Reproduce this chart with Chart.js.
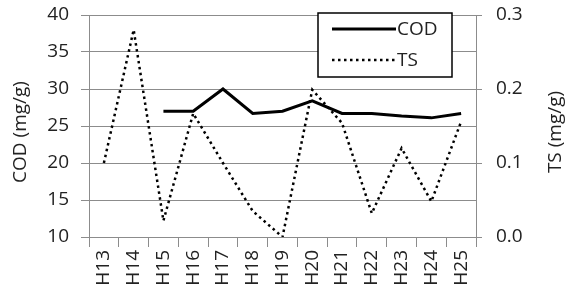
<!DOCTYPE html>
<html>
<head>
<meta charset="utf-8">
<script src="https://cdn.jsdelivr.net/npm/chart.js@4/dist/chart.umd.min.js"></script>
<style>
  html, body { margin: 0; padding: 0; background: #fff; }
  #wrap { width: 567px; height: 302px; }
</style>
</head>
<body>
<div id="wrap"><canvas id="codChart"></canvas></div>
<script>
const labels = ['H13', 'H14', 'H15', 'H16', 'H17', 'H18', 'H19', 'H20', 'H21', 'H22', 'H23', 'H24', 'H25'];
const codValues = [null, null, 27.0, 27.0, 30.0, 26.7, 27.0, 28.4, 26.7, 26.7, 26.35, 26.1, 26.7];
const tsValues = [0.10, 0.28, 0.022, 0.167, 0.10, 0.035, 0.0, 0.199, 0.154, 0.032, 0.12, 0.048, 0.156];

const fontFamily = "'Open Sans', sans-serif";
const fontSize = 19;
const gridColor = '#8c8c8c';
const textColor = '#222';

// legend box inside the plot + both axis titles reading bottom to top
const boxLegend = {
    id: 'boxLegend',
    afterDraw(chart) {
        const ctx = chart.ctx;
        const area = chart.chartArea;
        const x = area.right - 158, y = area.top - 2, w = 134, h = 64;
        ctx.save();
        ctx.fillStyle = '#fff';
        ctx.fillRect(x, y, w, h);
        ctx.strokeStyle = '#000';
        ctx.lineWidth = 1.5;
        ctx.strokeRect(x, y, w, h);
        chart.data.datasets.forEach((ds, i) => {
            const ly = y + 16 + i * 31;
            ctx.beginPath();
            ctx.strokeStyle = ds.borderColor;
            ctx.lineWidth = ds.borderWidth;
            ctx.setLineDash(ds.borderDash || []);
            ctx.moveTo(x + 14, ly);
            ctx.lineTo(x + 78, ly);
            ctx.stroke();
            ctx.setLineDash([]);
            ctx.fillStyle = textColor;
            ctx.font = fontSize + "px " + fontFamily;
            ctx.textBaseline = 'middle';
            ctx.fillText(ds.label, x + 79, ly + 1);
        });

        const midY = (area.top + area.bottom) / 2 + 6;
        [['y', 21], ['y1', 556]].forEach(([id, tx]) => {
            ctx.save();
            ctx.translate(tx, midY);
            ctx.rotate(-Math.PI / 2);
            ctx.fillStyle = textColor;
            ctx.font = fontSize + "px " + fontFamily;
            ctx.textAlign = 'center';
            ctx.textBaseline = 'middle';
            ctx.fillText(chart.scales[id].options.title.text, 0, 0);
            ctx.restore();
        });
        ctx.restore();
    }
};

new Chart(document.getElementById('codChart'), {
    type: 'line',
    data: {
        labels: labels,
        datasets: [
            {
                label: 'COD',
                data: codValues,
                yAxisID: 'y',
                borderColor: '#000',
                borderWidth: 3,
                pointRadius: 0,
                tension: 0,
                spanGaps: false
            },
            {
                label: 'TS',
                data: tsValues,
                yAxisID: 'y1',
                borderColor: '#000',
                borderWidth: 2.5,
                borderDash: [2.5, 3.5],
                pointRadius: 0,
                tension: 0
            }
        ]
    },
    options: {
        responsive: true,
        maintainAspectRatio: false,
        animation: false,
        layout: { padding: { top: 15, left: 0, right: 0, bottom: 0 } },
        plugins: {
            legend: { display: false },
            tooltip: { enabled: false }
        },
        scales: {
            x: {
                offset: true,
                grid: { display: true, drawOnChartArea: false, color: gridColor, tickLength: 10, offset: true },
                border: { display: true, color: gridColor },
                ticks: {
                    color: textColor,
                    font: { family: fontFamily, size: fontSize },
                    minRotation: 90,
                    maxRotation: 90,
                    padding: 3,
                    autoSkip: false
                },
                afterFit: (s) => { s.height = 65; s.paddingLeft = 0; s.paddingRight = 0; }
            },
            y: {
                position: 'left',
                min: 10,
                max: 40,
                ticks: {
                    stepSize: 5,
                    color: textColor,
                    font: { family: fontFamily, size: fontSize },
                    padding: 12
                },
                grid: { color: gridColor, lineWidth: 1, tickLength: 8 },
                border: { display: true, color: gridColor },
                title: { display: false, text: 'COD (mg/g)' },
                afterFit: (s) => { s.width = 89; s.paddingTop = 0; s.paddingBottom = 0; }
            },
            y1: {
                position: 'right',
                min: 0,
                max: 0.3,
                ticks: {
                    stepSize: 0.1,
                    color: textColor,
                    font: { family: fontFamily, size: fontSize },
                    padding: 14,
                    callback: (v) => Number(v).toFixed(1)
                },
                grid: { drawOnChartArea: false, color: gridColor, lineWidth: 1, tickLength: 6 },
                border: { display: true, color: gridColor },
                title: { display: false, text: 'TS (mg/g)' },
                afterFit: (s) => { s.width = 91; s.paddingTop = 0; s.paddingBottom = 0; }
            }
        }
    },
    plugins: [boxLegend]
});
</script>
</body>
</html>
